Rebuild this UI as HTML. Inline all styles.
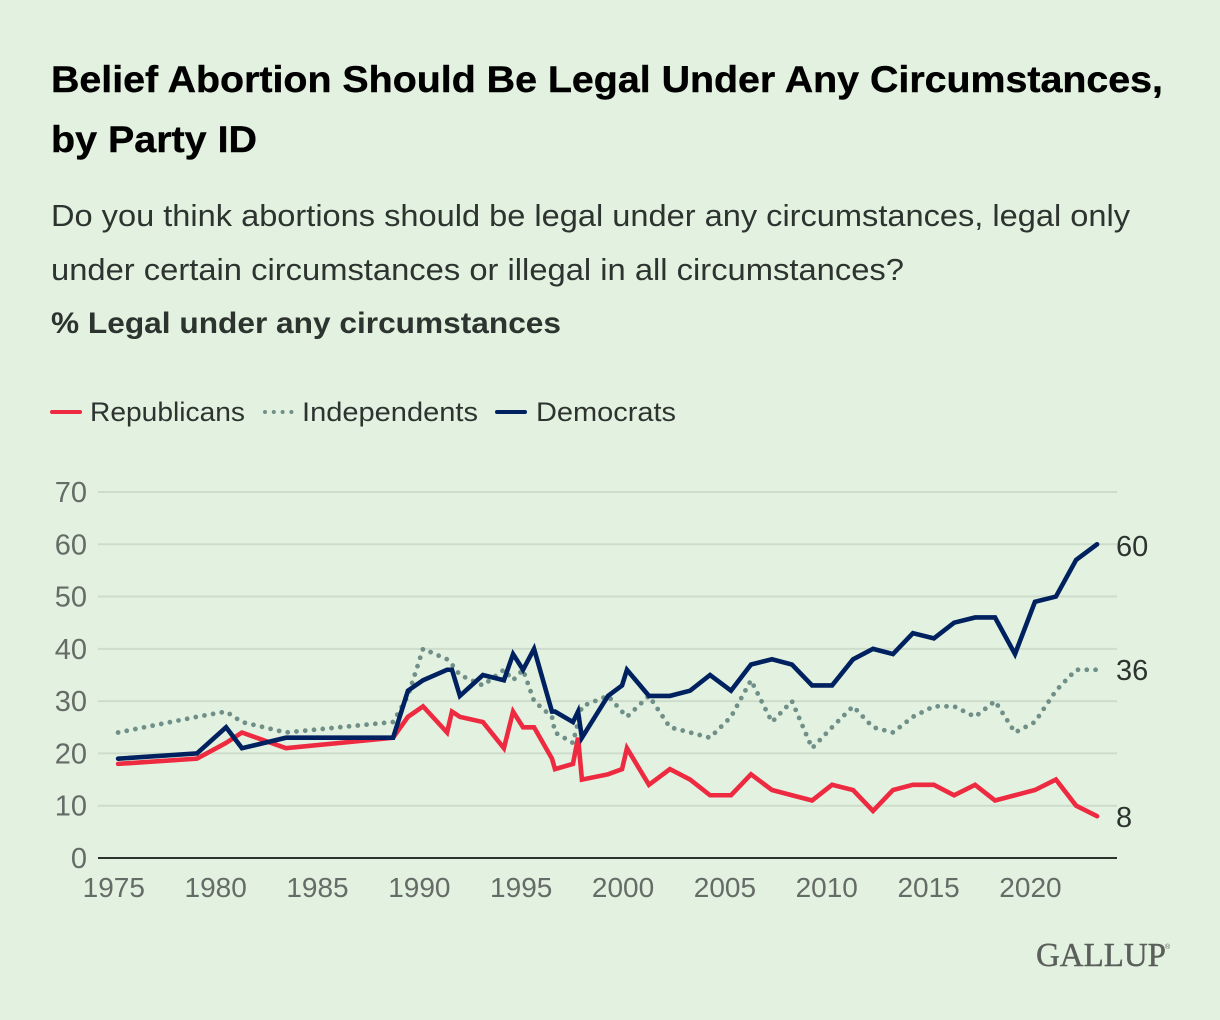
<!DOCTYPE html>
<html lang="en">
<head>
<meta charset="utf-8">
<title>Belief Abortion Should Be Legal Under Any Circumstances, by Party ID</title>
<style>
html,body{margin:0;padding:0;background:#e3f1e0;}
svg{display:block;font-family:"Liberation Sans",sans-serif;}
</style>
</head>
<body>
<svg id="chart" xmlns="http://www.w3.org/2000/svg" width="1220" height="1020" viewBox="0 0 1220 1020">
  <rect x="0" y="0" width="1220" height="1020" fill="#e3f1e0"/>
  <text x="51" y="92" font-size="37" font-weight="700" fill="#000" stroke="#000" stroke-width="0.4" textLength="1112" lengthAdjust="spacingAndGlyphs">Belief Abortion Should Be Legal Under Any Circumstances,</text>
  <text x="51" y="152" font-size="37" font-weight="700" fill="#000" stroke="#000" stroke-width="0.4" textLength="206" lengthAdjust="spacingAndGlyphs">by Party ID</text>
  <text x="51" y="226" font-size="31" fill="#2d332f" textLength="1079" lengthAdjust="spacingAndGlyphs">Do you think abortions should be legal under any circumstances, legal only</text>
  <text x="51" y="280" font-size="31" fill="#2d332f" textLength="853" lengthAdjust="spacingAndGlyphs">under certain circumstances or illegal in all circumstances?</text>
  <text x="51" y="333" font-size="30" font-weight="700" fill="#2d332f" textLength="510" lengthAdjust="spacingAndGlyphs">% Legal under any circumstances</text>

  <g>
    <line x1="52" y1="412" x2="80" y2="412" stroke="#ee2a41" stroke-width="4" stroke-linecap="round"/>
    <text x="90" y="421" font-size="27" fill="#2d332f" textLength="155" lengthAdjust="spacingAndGlyphs">Republicans</text>
    <line x1="265" y1="412" x2="292" y2="412" stroke="#6f8f88" stroke-width="4" stroke-linecap="round" stroke-dasharray="0 8.8"/>
    <text x="302" y="421" font-size="27" fill="#2d332f" textLength="176" lengthAdjust="spacingAndGlyphs">Independents</text>
    <line x1="497" y1="412" x2="525" y2="412" stroke="#00215f" stroke-width="4" stroke-linecap="round"/>
    <text x="536" y="421" font-size="27" fill="#2d332f" textLength="140" lengthAdjust="spacingAndGlyphs">Democrats</text>
  </g>

  <g id="grid"></g>
  <g id="y-axis"></g>
  <g id="x-axis"></g>
  <g id="series"></g>
  <g id="end-labels"></g>

  <g>
    <text x="1036" y="966" font-family="'Liberation Serif',serif" font-size="34" fill="#5b5f5b" stroke="#5b5f5b" stroke-width="0.4" textLength="130" lengthAdjust="spacingAndGlyphs">GALLUP</text>
    <text x="1165" y="949" font-family="'Liberation Sans',sans-serif" font-size="7" fill="#5b5f5b">®</text>
  </g>
</svg>
<script>
const surveyYears = [1975.26,1979.13,1980.56,1981.34,1983.50,1988.76,1989.49,1990.23,1991.41,1991.65,1992.04,1993.17,1994.20,1994.65,1995.14,1995.68,1996.56,1996.71,1997.59,1997.84,1998.03,1999.31,2000.00,2000.24,2001.32,2002.35,2003.34,2004.32,2005.35,2006.33,2007.36,2008.34,2009.33,2010.31,2011.34,2012.32,2013.30,2014.28,2015.31,2016.30,2017.33,2018.31,2019.29,2020.27,2021.30,2022.29,2023.32];
const republicans = [18,19,22,24,21,23,27,29,24,28,27,26,21,28,25,25,19,17,18,23,15,16,17,21,14,17,15,12,12,16,13,12,11,14,13,9,13,14,14,12,14,11,12,13,15,10,8];
const independents = [24,27,28,26,24,26,31,40,38,37,35,33,36,34,36,30,27,24,22,26,29,31,28,27,31,25,24,23,27,34,26,30,21,25,29,25,24,27,29,29,27,30,24,26,32,36,36];
const democrats = [19,20,25,21,23,23,32,34,36,36,31,35,34,39,36,40,28,28,26,28,23,31,33,36,31,31,32,35,32,37,38,37,33,33,38,40,39,43,42,45,46,46,39,49,50,57,60];
const yTickValues = [0,10,20,30,40,50,60,70];
const xTickYears = [1975,1980,1985,1990,1995,2000,2005,2010,2015,2020];

const SVG_NS = 'http://www.w3.org/2000/svg';
function xScale(year) { return 112.8 + (year - 1975) * 20.37; }
function yScale(value) { return 858 - value * 5.229; }
function make(tag, attrs, parent) {
  const el = document.createElementNS(SVG_NS, tag);
  Object.keys(attrs).forEach(function (k) { el.setAttribute(k, attrs[k]); });
  parent.appendChild(el);
  return el;
}
function linePath(values) {
  return values.map(function (v, i) {
    return (i ? 'L' : 'M') + xScale(surveyYears[i]).toFixed(2) + ' ' + yScale(v).toFixed(2);
  }).join(' ');
}

const gridGroup = document.getElementById('grid');
const yGroup = document.getElementById('y-axis');
const xGroup = document.getElementById('x-axis');
const seriesGroup = document.getElementById('series');
const endGroup = document.getElementById('end-labels');

yTickValues.forEach(function (t) {
  if (t !== 0) {
    const g = make('line', {x1: 98, x2: 1117, y1: yScale(t), y2: yScale(t), stroke: '#cedccb', 'stroke-width': 2}, gridGroup);
    
    
  }
  const lab = make('text', {x: 87, y: yScale(t) + 10, 'text-anchor': 'end', 'font-size': 29, fill: '#656b66'}, yGroup);
  lab.textContent = String(t);
  
  
});

const axisLine = make('line', {x1: 98, x2: 1117, y1: yScale(0), y2: yScale(0), stroke: '#2d332f', 'stroke-width': 2}, xGroup);



xTickYears.forEach(function (t) {
  const lab = make('text', {x: xScale(t) + 1, y: 897, 'text-anchor': 'middle', 'font-size': 28, fill: '#656b66'}, xGroup);
  lab.textContent = String(t);
  
  
});

const indLine = make('path', {d: linePath(independents), fill: 'none', stroke: '#6f8f88', 'stroke-width': 4.8, 'stroke-linecap': 'round', 'stroke-linejoin': 'round', 'stroke-dasharray': '0 8.8'}, seriesGroup);



const repLine = make('path', {d: linePath(republicans), fill: 'none', stroke: '#ee2a41', 'stroke-width': 4.6, 'stroke-linecap': 'round', 'stroke-linejoin': 'miter'}, seriesGroup);



const demLine = make('path', {d: linePath(democrats), fill: 'none', stroke: '#00215f', 'stroke-width': 4.6, 'stroke-linecap': 'round', 'stroke-linejoin': 'miter'}, seriesGroup);



const demEnd = make('text', {x: 1116, y: 556, 'font-size': 29, fill: '#2d332f'}, endGroup);
demEnd.textContent = String(democrats[democrats.length - 1]);



const indEnd = make('text', {x: 1116, y: 680, 'font-size': 29, fill: '#2d332f'}, endGroup);
indEnd.textContent = String(independents[independents.length - 1]);



const repEnd = make('text', {x: 1116, y: 827, 'font-size': 29, fill: '#2d332f'}, endGroup);
repEnd.textContent = String(republicans[republicans.length - 1]);


</script>
</body>
</html>
